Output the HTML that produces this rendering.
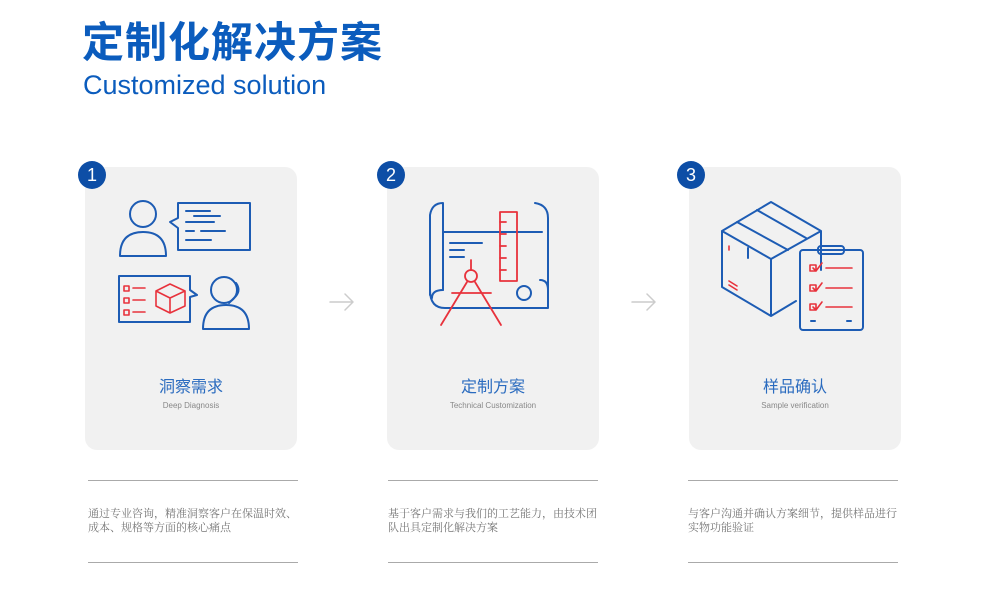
<!DOCTYPE html>
<html><head><meta charset="utf-8"><style>
body{margin:0;width:1000px;height:599px;background:#fff;position:relative;overflow:hidden;font-family:"Liberation Sans","Noto Sans CJK SC",sans-serif}
.t1{position:absolute;left:82px;top:15px;font-size:42px;font-weight:bold;color:#0b5cbd;letter-spacing:1px;line-height:56px}
.t2{position:absolute;left:83px;top:68px;font-size:27px;color:#0b5cbd;line-height:34px}
.card{position:absolute;top:167px;width:212px;height:283px;background:#f1f1f1;border-radius:12px}
.badge{position:absolute;top:161px;width:28px;height:28px;border-radius:50%;background:#0d4ea6;color:#fff;font-size:18px;text-align:center;line-height:28px}
.lab{position:absolute;top:373px;width:212px;text-align:center;font-size:16px;color:#2a6bbf}
.en{position:absolute;top:401px;width:212px;text-align:center;font-size:8px;color:#888}
.ln{position:absolute;height:1px;background:#aaa;width:210px}
.d{position:absolute;top:507px;width:215px;font-family:"Liberation Serif","Noto Serif CJK SC",serif;font-size:11px;color:#777;line-height:14px}
svg{position:absolute}
</style></head><body>
<div class="t1">定制化解决方案</div>
<div class="t2">Customized solution</div>

<div class="card" style="left:85px"></div>
<div class="card" style="left:387px"></div>
<div class="card" style="left:689px"></div>
<div class="badge" style="left:78px">1</div>
<div class="badge" style="left:377px">2</div>
<div class="badge" style="left:677px">3</div>

<svg width="1000" height="599" style="left:0;top:0" fill="none" stroke-width="2" stroke-linecap="round" stroke-linejoin="round">
<g stroke="#1d5cb4">
<circle cx="143" cy="214" r="13"/>
<path d="M120 256 Q120 232 143 232 Q166 232 166 256 Z"/>
<path d="M178 203 H250 V250 H178 V228 L170 222 L178 218 Z"/>
<path d="M186 211h24M194 216h26M186 222h28M186 231h8M201 231h24M186 240h25"/>
<path d="M119 276 H190 V290 L197 295 L190 297 V322 H119 Z"/>
<circle cx="224" cy="290" r="13"/>
<path d="M236 283 Q241 290 236 296 L229 303"/>
<path d="M203 329 Q203 305 226 305 Q249 305 249 329 Z"/>
</g>
<g stroke="#e8323c" stroke-width="1.6">
<rect x="124" y="286" width="5" height="5"/><rect x="124" y="298" width="5" height="5"/><rect x="124" y="310" width="5" height="5"/>
<path d="M133 288h12M133 300h12M133 312h12"/>
<path d="M170 284 L185 291 V306 L170 313 L156 306 V291 Z M156 291 L170 298 L185 291 M170 298 V313"/>
</g>
<g stroke="#1d5cb4">
<path d="M443 232 H542 M443 233 V203 Q432 203 430 215 V295 M443 232 V290"/>
<path d="M535 203 Q548 205 548 218 V295"/>
<path d="M430 290 Q430 308 445 308 H548 V290 Q548 280 540 280"/>
<path d="M443 290 Q432 290 432 298"/>
<circle cx="524" cy="293" r="7"/>
<path d="M450 243h32M450 250h14M450 257h14"/>
</g>
<g stroke="#e8323c" stroke-width="1.8">
<rect x="500" y="212" width="17" height="69"/>
<path d="M500 222h6M500 234h6M500 246h6M500 258h6M500 270h6"/>
<circle cx="471" cy="276" r="6"/>
<path d="M471 260v10M467 282 L441 325 M475 282 L501 325 M452 293 H491"/>
</g>
<g stroke="#1d5cb4">
<path d="M722 231 L771 202 L821 231 L821 270 M722 231 V287 L771 316 L796 301 M722 231 L771 259 L821 231 M771 259 V316"/>
<path d="M737 222 L788 250 M757 210 L806 238 M748 248 V258"/>
<rect x="800" y="250" width="63" height="80" rx="3"/>
<rect x="818" y="246" width="26" height="8" rx="3"/>
<path d="M811 321h4M847 321h4"/>
</g>
<g stroke="#e8323c" stroke-width="1.6">
<path d="M729 246v4M729 281 L737 286 M729 285 L737 290"/>
<path d="M810 265h6v6h-6z M813 268 L816 271 L822 263 M826 268h26"/>
<path d="M810 285h6v6h-6z M813 288 L816 291 L822 283 M826 288h26"/>
<path d="M810 304h6v6h-6z M813 307 L816 310 L822 302 M826 307h26"/>
</g>
<g stroke="#ccc" stroke-width="1.5">
<path d="M330 302h22M345 294l8 8-8 8"/>
<path d="M632 302h22M647 294l8 8-8 8"/>
</g>
</svg>

<div class="lab" style="left:85px">洞察需求</div>
<div class="en" style="left:85px">Deep Diagnosis</div>
<div class="lab" style="left:387px">定制方案</div>
<div class="en" style="left:387px">Technical Customization</div>
<div class="lab" style="left:689px">样品确认</div>
<div class="en" style="left:689px">Sample verification</div>

<div class="ln" style="left:88px;top:480px"></div>
<div class="ln" style="left:388px;top:480px"></div>
<div class="ln" style="left:688px;top:480px"></div>
<div class="ln" style="left:88px;top:562px"></div>
<div class="ln" style="left:388px;top:562px"></div>
<div class="ln" style="left:688px;top:562px"></div>

<div class="d" style="left:88px">通过专业咨询，精准洞察客户在保温时效、成本、规格等方面的核心痛点</div>
<div class="d" style="left:388px">基于客户需求与我们的工艺能力，由技术团队出具定制化解决方案</div>
<div class="d" style="left:688px">与客户沟通并确认方案细节，提供样品进行实物功能验证</div>
</body></html>
